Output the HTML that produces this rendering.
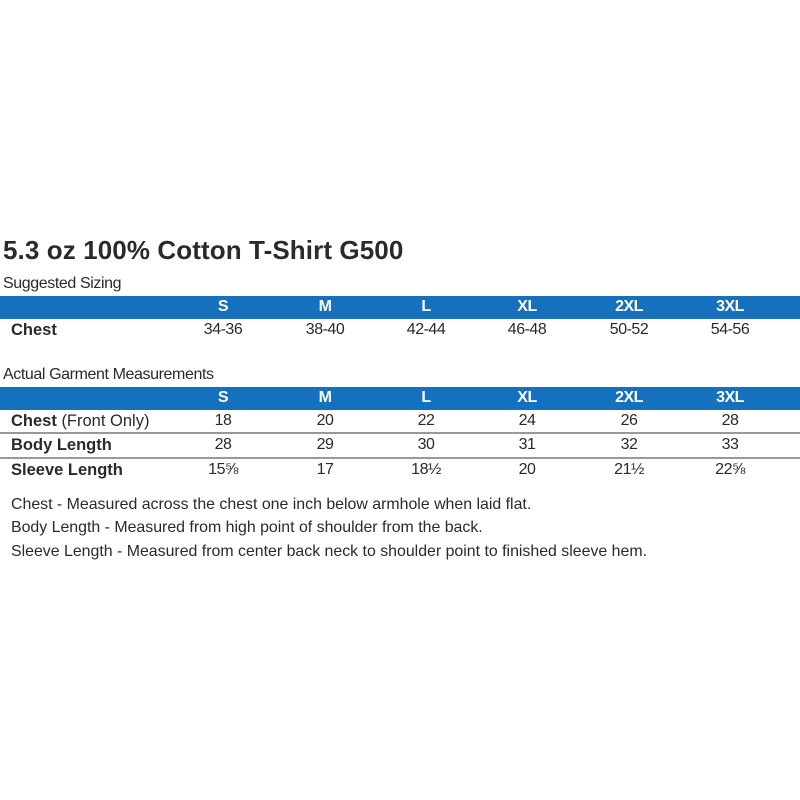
<!DOCTYPE html>
<html><head><style>
body{margin:0;width:800px;height:800px;background:#fff;position:relative;font-family:"Liberation Sans",sans-serif;color:#2a2a2a;overflow:hidden}
.a{position:absolute;white-space:nowrap}
.bar{position:absolute;left:0;width:800px;height:23px;background:#1570bd}
.h{position:absolute;color:#fff;font-weight:bold;font-size:16px;transform:translateX(-50%);letter-spacing:-0.5px}
.c{position:absolute;font-size:16px;transform:translateX(-50%);letter-spacing:-0.5px}
.l{position:absolute;left:11px;font-size:16.5px;font-weight:bold}
.ln{position:absolute;left:0;width:800px;height:2px;background:#999}
.n{position:absolute;left:11px;font-size:15.9px;letter-spacing:0}
</style></head><body>
<div class="a" style="left:3px;top:235px;font-size:26px;font-weight:bold;letter-spacing:0.1px">5.3 oz 100% Cotton T-Shirt G500</div>
<div class="a" style="left:3px;top:275px;font-size:16px;letter-spacing:-0.4px">Suggested Sizing</div>
<div class="bar" style="top:296px"></div>
<div class="a" style="left:3px;top:366px;font-size:16px;letter-spacing:-0.4px">Actual Garment Measurements</div>
<div class="bar" style="top:387px"></div>
<div class="ln" style="top:432px"></div>
<div class="ln" style="top:457px"></div>

<div class="h" style="left:223px;top:298px">S</div><div class="h" style="left:325px;top:298px">M</div><div class="h" style="left:426px;top:298px">L</div><div class="h" style="left:527px;top:298px">XL</div><div class="h" style="left:629px;top:298px">2XL</div><div class="h" style="left:730px;top:298px">3XL</div>
<div class="l a" style="top:321px">Chest</div>
<div class="c" style="left:223px;top:321px">34-36</div><div class="c" style="left:325px;top:321px">38-40</div><div class="c" style="left:426px;top:321px">42-44</div><div class="c" style="left:527px;top:321px">46-48</div><div class="c" style="left:629px;top:321px">50-52</div><div class="c" style="left:730px;top:321px">54-56</div>

<div class="h" style="left:223px;top:389px">S</div><div class="h" style="left:325px;top:389px">M</div><div class="h" style="left:426px;top:389px">L</div><div class="h" style="left:527px;top:389px">XL</div><div class="h" style="left:629px;top:389px">2XL</div><div class="h" style="left:730px;top:389px">3XL</div>
<div class="l a" style="top:412px">Chest <span style="font-weight:normal">(Front Only)</span></div>
<div class="c" style="left:223px;top:412px">18</div><div class="c" style="left:325px;top:412px">20</div><div class="c" style="left:426px;top:412px">22</div><div class="c" style="left:527px;top:412px">24</div><div class="c" style="left:629px;top:412px">26</div><div class="c" style="left:730px;top:412px">28</div>
<div class="l a" style="top:436px">Body Length</div>
<div class="c" style="left:223px;top:436px">28</div><div class="c" style="left:325px;top:436px">29</div><div class="c" style="left:426px;top:436px">30</div><div class="c" style="left:527px;top:436px">31</div><div class="c" style="left:629px;top:436px">32</div><div class="c" style="left:730px;top:436px">33</div>
<div class="l a" style="top:461px">Sleeve Length</div>
<div class="c" style="left:223px;top:461px">15⅝</div><div class="c" style="left:325px;top:461px">17</div><div class="c" style="left:426px;top:461px">18½</div><div class="c" style="left:527px;top:461px">20</div><div class="c" style="left:629px;top:461px">21½</div><div class="c" style="left:730px;top:461px">22⅝</div>

<div class="n a" style="top:496px">Chest - Measured across the chest one inch below armhole when laid flat.</div>
<div class="n a" style="top:519px">Body Length - Measured from high point of shoulder from the back.</div>
<div class="n a" style="top:543px">Sleeve Length - Measured from center back neck to shoulder point to finished sleeve hem.</div>
</body></html>
